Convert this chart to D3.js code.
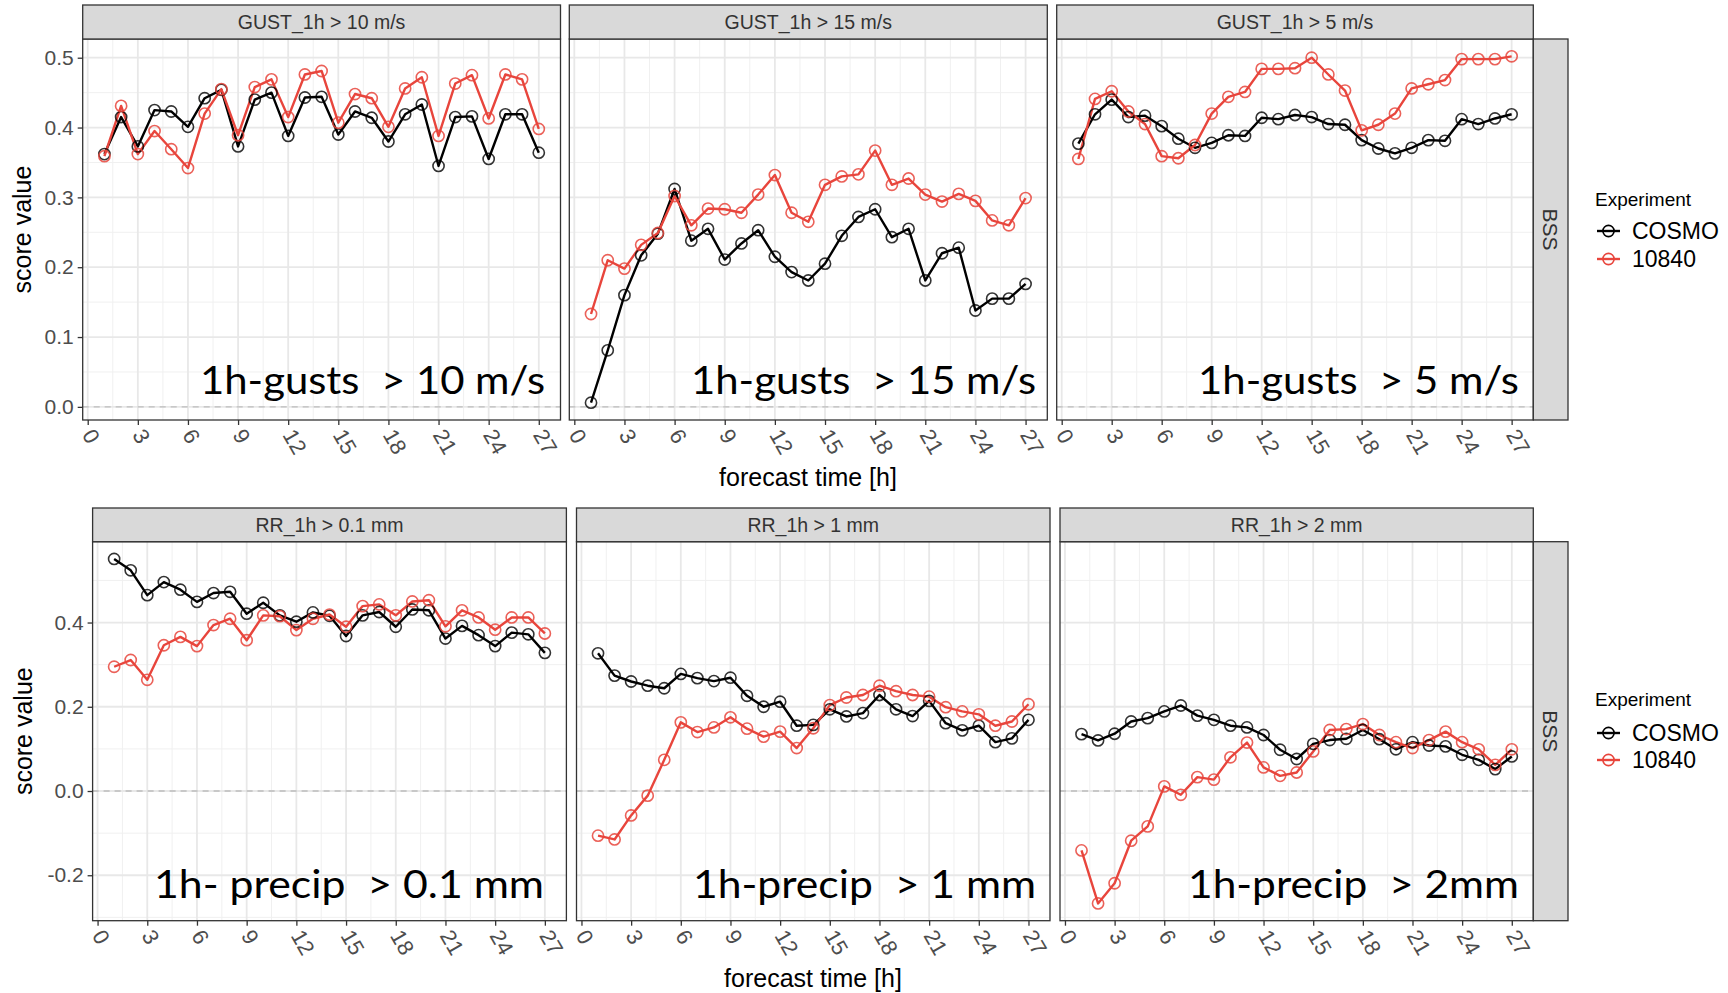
<!DOCTYPE html>
<html><head><meta charset="utf-8">
<script src="https://cdn.jsdelivr.net/npm/d3@7"></script>
<style>
body{margin:0;background:#fff;}
svg{display:block;font-family:"Liberation Sans",Arial,sans-serif;}
</style>
</head><body>
<svg id="c" width="1728" height="993"></svg>
<script>
// ---------------- DATA ----------------
const hours = [1,2,3,4,5,6,7,8,9,10,11,12,13,14,15,16,17,18,19,20,21,22,23,24,25,26,27];
const seriesNames = ["COSMO", "10840"];
const xTicks = [0,3,6,9,12,15,18,21,24,27];
const topYTicks = [0.0,0.1,0.2,0.3,0.4,0.5];
const bottomYTicks = [-0.2,0.0,0.2,0.4];

const topStrips = ["GUST_1h > 10 m/s", "GUST_1h > 15 m/s", "GUST_1h > 5 m/s"];
const bottomStrips = ["RR_1h > 0.1 mm", "RR_1h > 1 mm", "RR_1h > 2 mm"];
const topNotes = ["1h-gusts  > 10 m/s", "1h-gusts  > 15 m/s", "1h-gusts  > 5 m/s"];
const bottomNotes = ["1h- precip  > 0.1 mm", "1h-precip  > 1 mm", "1h-precip  > 2mm"];
const rowStripLabel = "BSS";
const legendTitle = "Experiment";
const xTitle = "forecast time [h]";
const yTitle = "score value";

const gust10_cosmo = [0.362,0.415,0.373,0.425,0.423,0.401,0.442,0.454,0.373,0.440,0.450,0.388,0.443,0.444,0.390,0.423,0.414,0.380,0.419,0.433,0.345,0.415,0.416,0.355,0.419,0.419,0.364];
const gust10_exp   = [0.359,0.431,0.362,0.395,0.369,0.342,0.420,0.455,0.389,0.458,0.469,0.415,0.476,0.481,0.407,0.448,0.442,0.401,0.456,0.472,0.388,0.463,0.475,0.413,0.476,0.469,0.398];
const gust15_cosmo = [0.006,0.081,0.160,0.217,0.248,0.312,0.238,0.255,0.211,0.234,0.253,0.215,0.193,0.181,0.205,0.245,0.272,0.283,0.243,0.255,0.181,0.220,0.228,0.138,0.155,0.155,0.176];
const gust15_exp   = [0.133,0.210,0.198,0.232,0.249,0.302,0.260,0.284,0.283,0.278,0.304,0.332,0.278,0.265,0.318,0.330,0.333,0.367,0.318,0.327,0.304,0.294,0.305,0.295,0.267,0.260,0.299];
const gust5_cosmo  = [0.377,0.419,0.440,0.415,0.417,0.402,0.384,0.371,0.378,0.389,0.388,0.414,0.412,0.418,0.415,0.405,0.404,0.382,0.370,0.363,0.371,0.382,0.381,0.412,0.405,0.413,0.419];
const gust5_exp    = [0.355,0.441,0.452,0.423,0.405,0.359,0.356,0.375,0.420,0.444,0.451,0.484,0.484,0.485,0.500,0.476,0.453,0.396,0.404,0.420,0.456,0.462,0.468,0.498,0.498,0.498,0.502];
const rr01_cosmo   = [0.551,0.524,0.465,0.496,0.478,0.449,0.470,0.473,0.421,0.447,0.417,0.402,0.424,0.416,0.368,0.417,0.425,0.390,0.431,0.429,0.362,0.392,0.370,0.344,0.376,0.372,0.328];
const rr01_exp     = [0.295,0.311,0.264,0.346,0.366,0.344,0.394,0.409,0.358,0.417,0.415,0.382,0.409,0.419,0.390,0.439,0.443,0.417,0.450,0.453,0.391,0.429,0.412,0.383,0.412,0.412,0.374];
const rr1_cosmo    = [0.327,0.274,0.260,0.250,0.244,0.278,0.268,0.261,0.269,0.226,0.200,0.212,0.155,0.157,0.194,0.177,0.185,0.228,0.194,0.178,0.214,0.161,0.144,0.155,0.116,0.125,0.169];
const rr1_exp      = [-0.106,-0.115,-0.058,-0.011,0.074,0.163,0.140,0.151,0.175,0.148,0.129,0.141,0.102,0.149,0.204,0.222,0.228,0.250,0.237,0.228,0.224,0.199,0.189,0.182,0.155,0.165,0.206];
const rr2_cosmo    = [0.135,0.120,0.136,0.165,0.173,0.189,0.203,0.179,0.169,0.155,0.151,0.133,0.098,0.076,0.112,0.121,0.124,0.145,0.123,0.099,0.116,0.108,0.106,0.086,0.074,0.052,0.082];
const rr2_exp      = [-0.141,-0.267,-0.219,-0.118,-0.084,0.011,-0.009,0.033,0.027,0.080,0.115,0.056,0.036,0.044,0.094,0.145,0.147,0.159,0.133,0.116,0.102,0.121,0.141,0.116,0.099,0.062,0.099];

// ---------------- STYLE / LAYOUT ----------------
const colors = {"COSMO": "#000000", "10840": "#E8453C"};
const rows = [
  {
    strips: topStrips, notes: topNotes, yTicks: topYTicks,
    data: [[gust10_cosmo, gust10_exp],[gust15_cosmo, gust15_exp],[gust5_cosmo, gust5_exp]],
    xs: [[82.7,560.5],[569.3,1047.3],[1056.7,1533.3]],
    stripTop: 5, plotTop: 39, plotBot: 420,
    noteX: [[200,345],[691,345],[1198,321]], noteY: 394,
    xTitleY: 486, xTitleX: 808, yTitleX: 22,
    legendTitleY: 199, legendItemY: [231, 259]
  },
  {
    strips: bottomStrips, notes: bottomNotes, yTicks: bottomYTicks,
    data: [[rr01_cosmo, rr01_exp],[rr1_cosmo, rr1_exp],[rr2_cosmo, rr2_exp]],
    xs: [[92.6,566.4],[576.5,1050],[1060,1533.3]],
    stripTop: 508, plotTop: 541.7, plotBot: 920.7,
    noteX: [[154,390],[693,343],[1188,331]], noteY: 898,
    xTitleY: 987, xTitleX: 813, yTitleX: 23,
    legendTitleY: 699, legendItemY: [733, 760]
  }
];

const svg = d3.select("#c");
svg.append("rect").attr("width",1728).attr("height",993).attr("fill","#fff");

function minorsOf(ticks, lo, hi) {
  const step = ticks[1]-ticks[0];
  const out = [];
  for (let i=-1;i<ticks.length;i++) {
    const v = (i<0 ? ticks[0]-step/2 : ticks[i]+step/2);
    if (v>lo && v<hi) out.push(v);
  }
  return out;
}

rows.forEach(row => {
  const all = row.data.flat(2);
  const [mn, mx] = d3.extent(all);
  const pad = (mx-mn)*0.05;
  const y = d3.scaleLinear().domain([mn-pad, mx+pad]).range([row.plotBot, row.plotTop]);
  const span = hours[hours.length-1]-hours[0];
  const xDom = [hours[0]-span*0.05, hours[hours.length-1]+span*0.05];
  const yMinor = minorsOf(row.yTicks, y.domain()[0], y.domain()[1]);
  const xMinor = minorsOf(xTicks, xDom[0], xDom[1]);

  row.data.forEach((pair, i) => {
    const [x0, x1] = row.xs[i];
    const x = d3.scaleLinear().domain(xDom).range([x0, x1]);
    const g = svg.append("g");
    g.append("rect").attr("x",x0).attr("y",row.plotTop).attr("width",x1-x0).attr("height",row.plotBot-row.plotTop).attr("fill","#fff");
    // minor grid
    g.selectAll(".hmin").data(yMinor).join("line")
      .attr("x1",x0).attr("x2",x1).attr("y1",d=>y(d)).attr("y2",d=>y(d))
      .attr("stroke","#F0F0F0").attr("stroke-width",1);
    g.selectAll(".vmin").data(xMinor).join("line")
      .attr("y1",row.plotTop).attr("y2",row.plotBot).attr("x1",d=>x(d)).attr("x2",d=>x(d))
      .attr("stroke","#F0F0F0").attr("stroke-width",1);
    // major grid
    g.selectAll(".hmaj").data(row.yTicks).join("line")
      .attr("x1",x0).attr("x2",x1).attr("y1",d=>y(d)).attr("y2",d=>y(d))
      .attr("stroke","#E8E8E8").attr("stroke-width",1.8);
    g.selectAll(".vmaj").data(xTicks).join("line")
      .attr("y1",row.plotTop).attr("y2",row.plotBot).attr("x1",d=>x(d)).attr("x2",d=>x(d))
      .attr("stroke","#E8E8E8").attr("stroke-width",1.8);
    // zero line
    g.append("line").attr("x1",x0).attr("x2",x1).attr("y1",y(0)).attr("y2",y(0))
      .attr("stroke","#BDBDBD").attr("stroke-width",1.3).attr("stroke-dasharray","6,5");

    const line = d3.line().x((d,k)=>x(hours[k])).y(d=>y(d));
    pair.forEach((vals, s) => {
      g.append("path").attr("d", line(vals)).attr("fill","none")
        .attr("stroke", colors[seriesNames[s]]).attr("stroke-width",2.4).attr("stroke-linejoin","round");
    });
    pair.forEach((vals, s) => {
      g.selectAll(null).data(vals).join("circle")
        .attr("cx",(d,k)=>x(hours[k])).attr("cy",d=>y(d)).attr("r",5.6)
        .attr("fill","none").attr("stroke", colors[seriesNames[s]]).attr("stroke-width",1.6)
        .attr("stroke-opacity", s===0 ? 0.8 : 0.85);
    });

    // overlay note
    g.append("text").attr("x",row.noteX[i][0]).attr("y",row.noteY)
      .attr("textLength",row.noteX[i][1]).attr("lengthAdjust","spacingAndGlyphs")
      .style("white-space","pre")
      .attr("font-family","Lato, 'Open Sans', sans-serif").attr("font-size",39).attr("fill","#000")
      .text(row.notes[i]);

    // border
    g.append("rect").attr("x",x0).attr("y",row.plotTop).attr("width",x1-x0).attr("height",row.plotBot-row.plotTop)
      .attr("fill","none").attr("stroke","#333").attr("stroke-width",1.3);
    // strip
    g.append("rect").attr("x",x0).attr("y",row.stripTop).attr("width",x1-x0).attr("height",row.plotTop-row.stripTop)
      .attr("fill","#D9D9D9").attr("stroke","#333").attr("stroke-width",1.3);
    g.append("text").attr("x",(x0+x1)/2).attr("y",(row.stripTop+row.plotTop)/2).attr("dy","0.35em")
      .attr("text-anchor","middle").attr("font-size",19.5).attr("fill","#333").text(row.strips[i]);

    // x axis
    const ax = g.append("g").attr("transform",`translate(0,${row.plotBot})`)
      .call(d3.axisBottom(x).tickValues(xTicks).tickSize(5).tickFormat(d=>String(d)));
    ax.select(".domain").remove();
    ax.selectAll(".tick line").attr("stroke","#333").attr("stroke-width",1.3);
    ax.selectAll(".tick text").attr("y",0).attr("dy","0.35em")
      .attr("transform","translate(0,11) rotate(60)").attr("text-anchor","start")
      .attr("font-size",22).attr("fill","#4D4D4D").attr("font-family","Liberation Sans, Arial, sans-serif");

    if (i===0) {
      const ay = svg.append("g").attr("transform",`translate(${x0},0)`)
        .call(d3.axisLeft(y).tickValues(row.yTicks).tickSize(5).tickPadding(4).tickFormat(d=>d.toFixed(1)));
      ay.select(".domain").remove();
      ay.selectAll(".tick line").attr("stroke","#333").attr("stroke-width",1.3);
      ay.selectAll(".tick text").attr("font-size",21).attr("fill","#4D4D4D").attr("font-family","Liberation Sans, Arial, sans-serif");
    }
  });

  // right strip
  const rx0 = row.xs[2][1], rx1 = 1568;
  svg.append("rect").attr("x",rx0).attr("y",row.plotTop).attr("width",rx1-rx0).attr("height",row.plotBot-row.plotTop)
    .attr("fill","#D9D9D9").attr("stroke","#333").attr("stroke-width",1.3);
  const cy = (row.plotTop+row.plotBot)/2;
  svg.append("text").attr("transform",`translate(${(rx0+rx1)/2},${cy}) rotate(90)`).attr("dy","0.35em")
    .attr("text-anchor","middle").attr("font-size",21).attr("fill","#333").text(rowStripLabel);

  // axis titles
  svg.append("text").attr("x",row.xTitleX).attr("y",row.xTitleY).attr("text-anchor","middle")
    .attr("font-size",25).attr("fill","#000").text(xTitle);
  svg.append("text").attr("transform",`translate(${row.yTitleX},${cy}) rotate(-90)`).attr("dy","0.35em")
    .attr("text-anchor","middle").attr("font-size",25).attr("fill","#000").text(yTitle);

  // legend
  svg.append("text").attr("x",1595).attr("y",row.legendTitleY).attr("dy","0.35em")
    .attr("font-size",19).attr("fill","#000").text(legendTitle);
  seriesNames.forEach((nm, s) => {
    const ly = row.legendItemY[s];
    svg.append("line").attr("x1",1597).attr("x2",1620).attr("y1",ly).attr("y2",ly)
      .attr("stroke",colors[nm]).attr("stroke-width",2.4);
    svg.append("circle").attr("cx",1608.5).attr("cy",ly).attr("r",5.6).attr("fill","none")
      .attr("stroke",colors[nm]).attr("stroke-width",1.6);
    svg.append("text").attr("x",1632).attr("y",ly).attr("dy","0.35em")
      .attr("font-size",23).attr("fill","#000").text(nm);
  });
});
</script>
</body></html>
